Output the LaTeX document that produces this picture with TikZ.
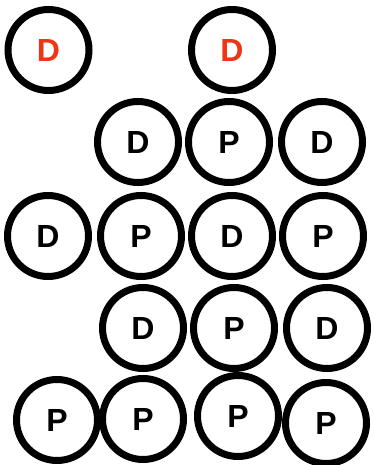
\documentclass[tikz,border=0pt]{standalone}
\usepackage{fontspec}
\setmainfont{Liberation Sans}
\usepackage{tikz}
\definecolor{Mark}{HTML}{EE3514}
\tikzset{cell/.style={circle,draw=black,line width=7pt,minimum size=81pt,inner sep=0pt,font=\fontsize{32}{32}\selectfont\bfseries},dcell/.style={cell,text=black},pcell/.style={cell,text=black},hot/.style={cell,text=Mark}}

\begin{document}
\begin{tikzpicture}[x=1pt,y=-1pt]
      \useasboundingbox(0,0)rectangle(373,465);
      % top row
      \node[hot](hotA)at(48.5,50){D};
      \node[hot](hotB)at(232,50){D};
      % second row
      \node[dcell](dA)at(138,142){D};
      \node[pcell](pA)at(229,142){P};
      \node[dcell](dB)at(322,142){D};
      % third row
      \node[dcell](dC)at(48,236){D};
      \node[pcell](pB)at(141,236){P};
      \node[dcell](dD)at(232,236){D};
      \node[pcell](pC)at(323,236){P};
      % fourth row
      \node[dcell](dE)at(143,328){D};
      \node[pcell](pD)at(234,328){P};
      \node[dcell](dF)at(327,328){D};
      % bottom row
      \node[pcell](pE)at(57,420){P};
      \node[pcell](pF)at(143,419){P};
      \node[pcell](pG)at(238,416){P};
      \node[pcell](pH)at(326,423){P};
    \end{tikzpicture}
\end{document}
